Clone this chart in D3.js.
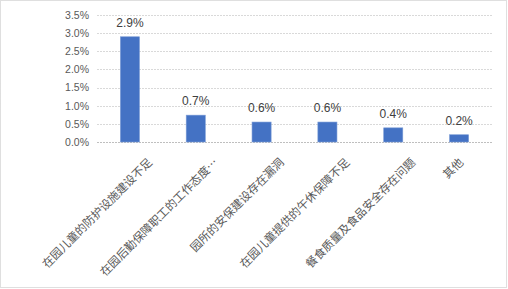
<!DOCTYPE html>
<html><head><meta charset="utf-8">
<script src="https://cdn.jsdelivr.net/npm/d3@7"></script>
<style>body{margin:0;background:#fff}svg{display:block}</style>
</head><body>
<script>
const categories = ["在园儿童的防护设施建设不足","在园后勤保障职工的工作态度…","园所的安保建设存在漏洞","在园儿童提供的午休保障不足","餐食质量及食品安全存在问题","其他"];
const values = [0.029, 0.0074, 0.0055, 0.0055, 0.0039, 0.0020];
const valueLabels = ["2.9%","0.7%","0.6%","0.6%","0.4%","0.2%"];
const yTicks = [0,0.005,0.01,0.015,0.02,0.025,0.03,0.035];

const W=508,H=289;
const svg=d3.select("body").append("svg").attr("width",W).attr("height",H);
svg.append("rect").attr("x",0.5).attr("y",0.5).attr("width",W-2).attr("height",H-2)
  .attr("fill","#fff").attr("stroke","#bfbfbf").attr("stroke-dasharray","1,1");

const x=d3.scaleBand().domain(categories).range([97,492]).paddingInner(0.71).paddingOuter(0.355);
const y=d3.scaleLinear().domain([0,0.035]).range([142,15]);

const grid=svg.append("g");
grid.selectAll("line").data(yTicks).join("line")
  .attr("x1",97).attr("x2",492).attr("y1",d=>Math.round(y(d))+0.5).attr("y2",d=>Math.round(y(d))+0.5)
  .attr("stroke",d=>d===0?"#bfbfbf":"#d9d9d9").attr("stroke-dasharray","2,1");

const yAxis=svg.append("g").attr("transform","translate(97,0)")
  .call(d3.axisLeft(y).tickValues(yTicks).tickFormat(d3.format(".1%")).tickSize(0).tickPadding(8));
yAxis.select(".domain").remove();
yAxis.selectAll("text").attr("fill","#595959").style("font-family","'Liberation Sans',Arial,sans-serif").style("font-size","10.5px");

svg.append("g").selectAll("rect").data(values).join("rect")
  .attr("x",(d,i)=>x(categories[i])).attr("width",x.bandwidth())
  .attr("y",d=>y(d)).attr("height",d=>y(0)-y(d))
  .attr("fill","#4472c4").attr("stroke","#7a9bd6").attr("stroke-width",0.6);

svg.append("g").selectAll("text").data(values).join("text")
  .attr("x",(d,i)=>x(categories[i])+x.bandwidth()/2).attr("y",d=>y(d)-10)
  .attr("text-anchor","middle").attr("fill","#404040")
  .style("font-family","'Liberation Sans',Arial,sans-serif").style("font-size","12px")
  .text((d,i)=>valueLabels[i]);

svg.append("g").selectAll("text").data(categories).join("text")
  .attr("transform",d=>{const cx=x(d)+x.bandwidth()/2; const dx=d.length>4?23:5; return `translate(${cx+dx},163) rotate(-45)`;})
  .attr("text-anchor","end").attr("fill","#595959")
  .style("font-family","'Noto Sans CJK SC',sans-serif").style("font-size","11.5px")
  .text(d=>d);
</script>
</body></html>
